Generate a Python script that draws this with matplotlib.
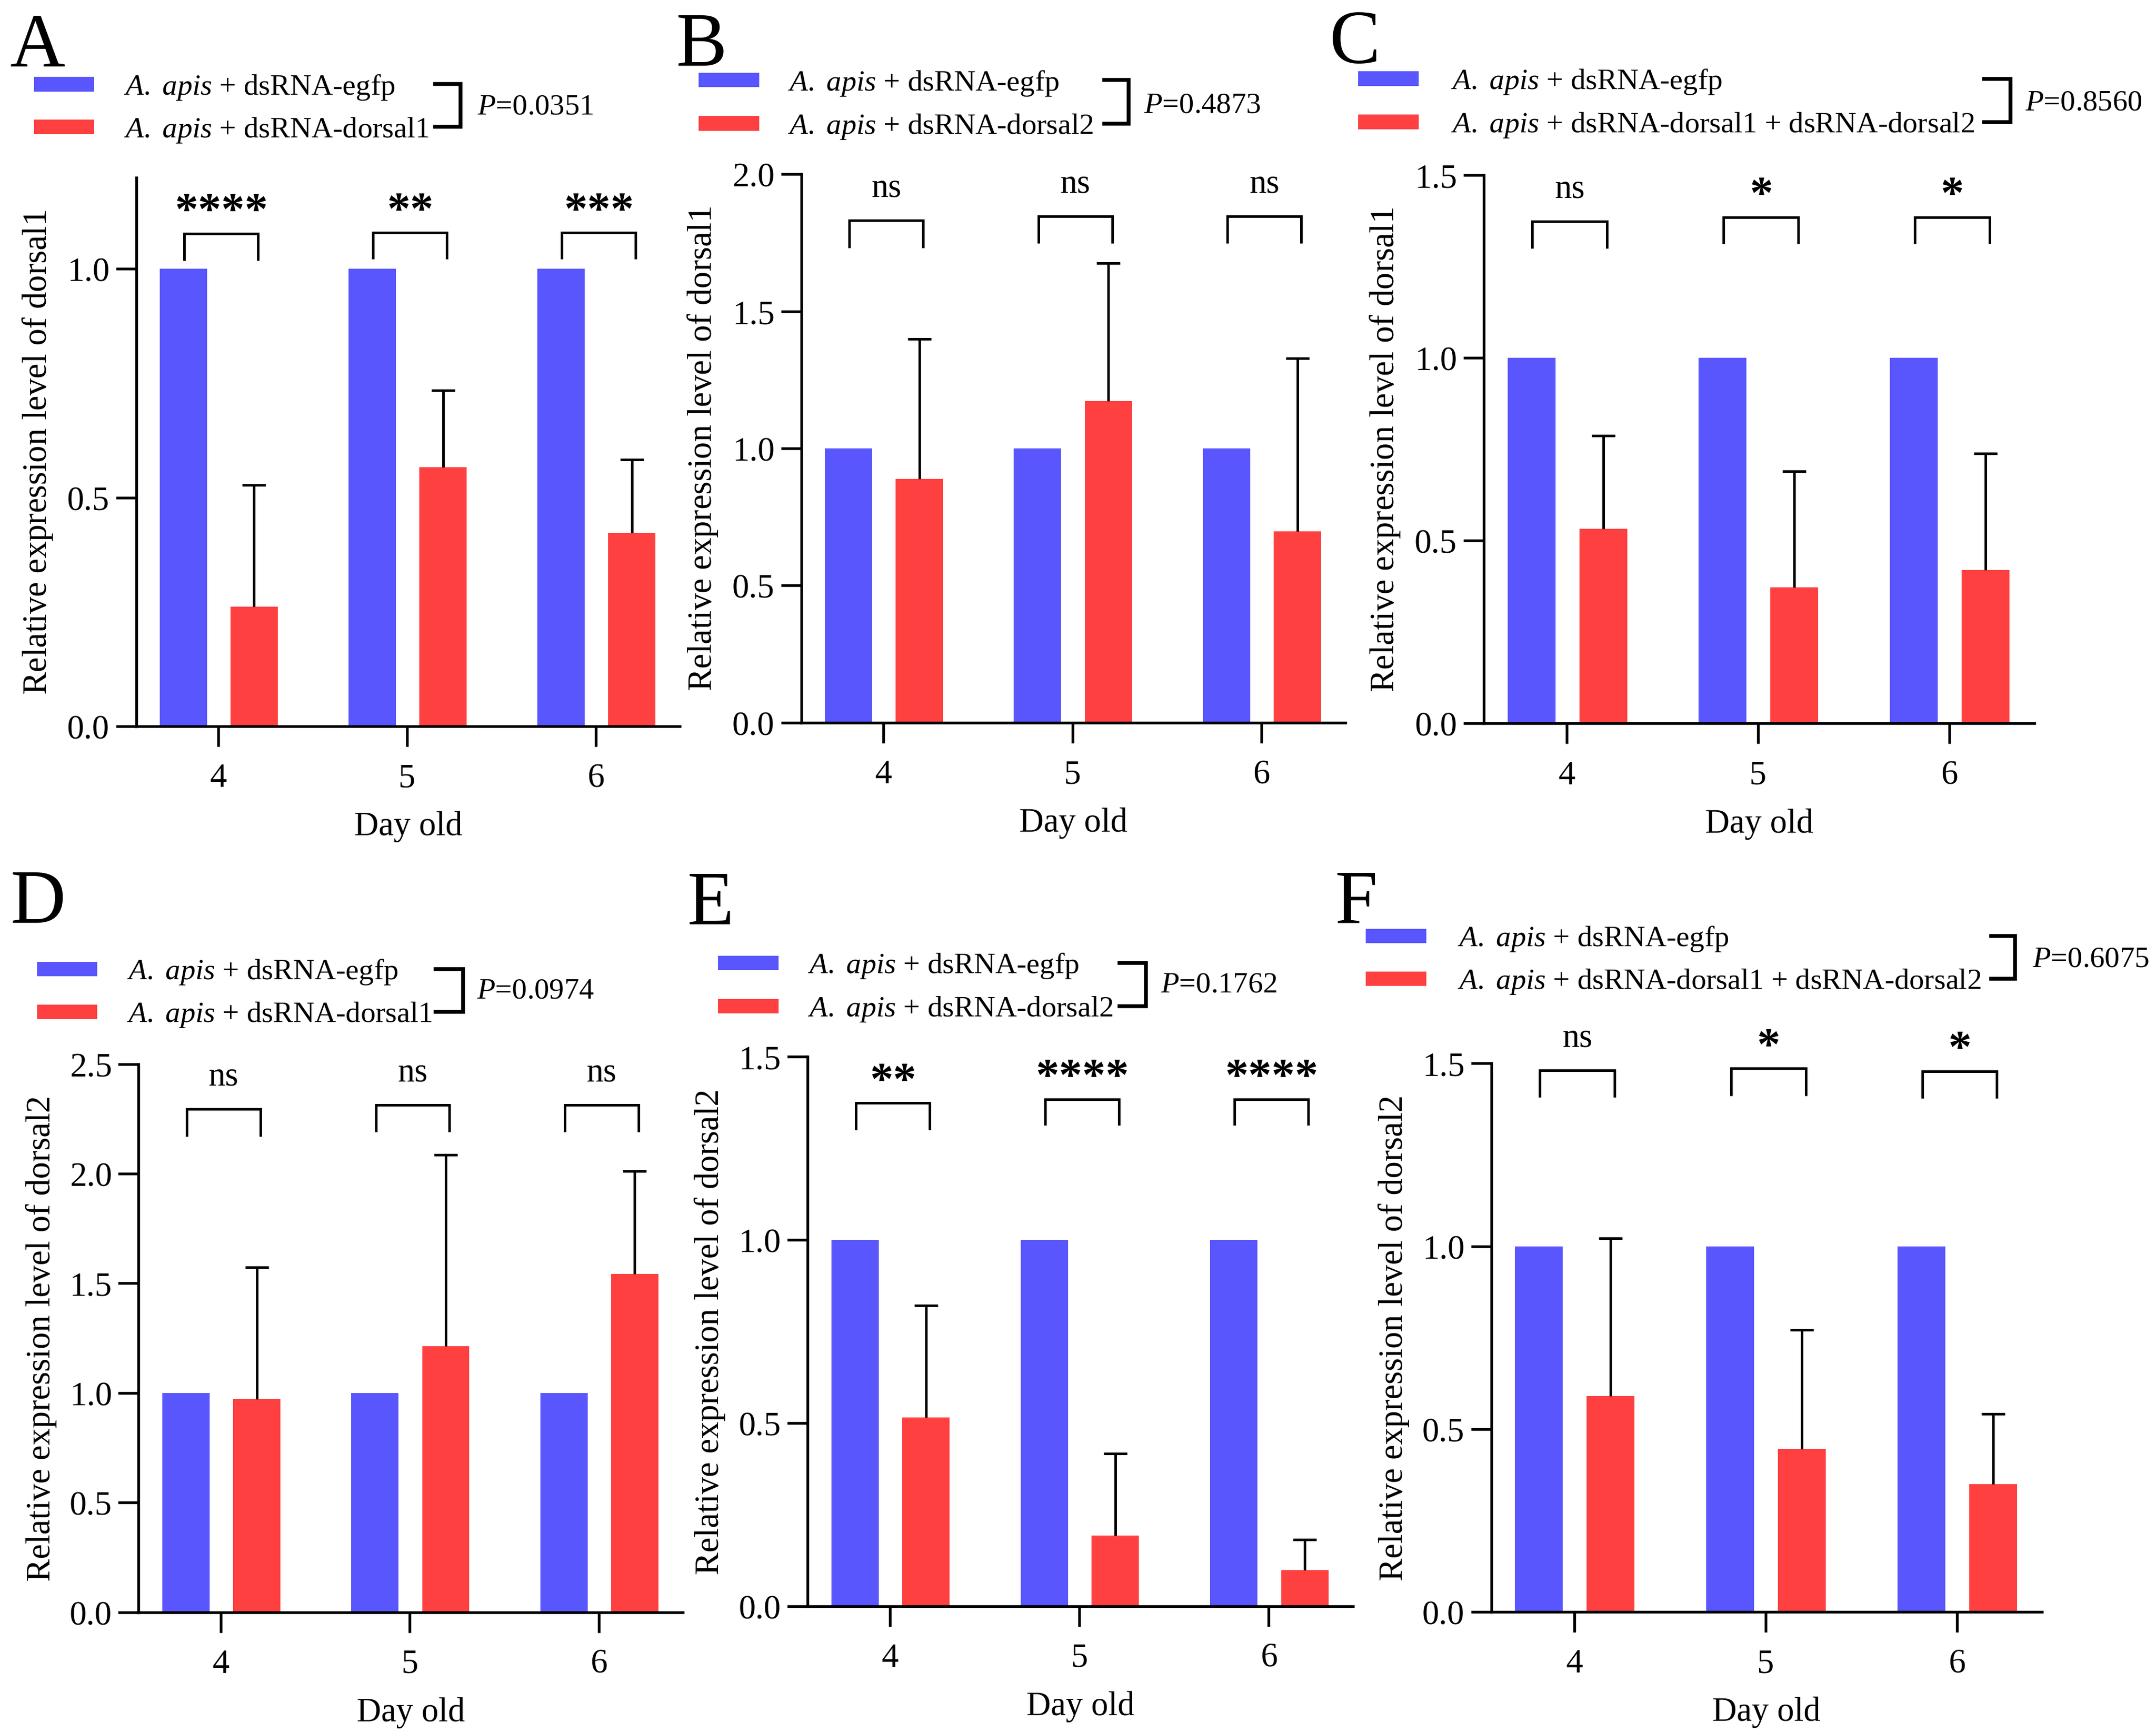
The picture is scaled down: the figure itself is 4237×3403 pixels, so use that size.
import numpy as np
import matplotlib
matplotlib.use('Agg')
import matplotlib.pyplot as plt
from matplotlib.patches import Rectangle
from matplotlib.lines import Line2D
from matplotlib.ticker import FormatStrFormatter

plt.rcParams['font.family'] = 'Liberation Serif'
plt.rcParams['mathtext.fontset'] = 'custom'
plt.rcParams['mathtext.rm'] = 'Liberation Serif'
plt.rcParams['mathtext.it'] = 'Liberation Serif:italic'
plt.rcParams['mathtext.bf'] = 'Liberation Serif:bold'

BLUE = '#5956fe'
RED = '#fe4040'

# data
days = ['4', '5', '6']
egfp = [1.0, 1.0, 1.0]

a_mean = [0.262, 0.567, 0.423]
a_sd = [0.266, 0.167, 0.160]
a_sig = ['****', '**', '***']
a_brk = [1.077, 1.079, 1.079]
a_brk_low = [1.018, 1.021, 1.021]

b_mean = [0.888, 1.172, 0.697]
b_sd = [0.511, 0.504, 0.631]
b_sig = ['ns', 'ns', 'ns']
b_brk = [1.831, 1.847, 1.847]
b_brk_low = [1.731, 1.748, 1.748]

c_mean = [0.533, 0.373, 0.420]
c_sd = [0.254, 0.317, 0.319]
c_sig = ['ns', '*', '*']
c_brk = [1.373, 1.385, 1.385]
c_brk_low = [1.300, 1.312, 1.312]

d_mean = [0.972, 1.212, 1.543]
d_sd = [0.600, 0.873, 0.468]
d_sig = ['ns', 'ns', 'ns']
d_brk = [2.294, 2.313, 2.313]
d_brk_low = [2.170, 2.190, 2.190]

e_mean = [0.515, 0.192, 0.098]
e_sd = [0.306, 0.224, 0.083]
e_sig = ['**', '****', '****']
e_brk = [1.373, 1.383, 1.383]
e_brk_low = [1.300, 1.312, 1.312]

f_mean = [0.590, 0.446, 0.350]
f_sd = [0.432, 0.325, 0.191]
f_sig = ['ns', '*', '*']
f_brk = [1.481, 1.486, 1.478]
f_brk_low = [1.407, 1.412, 1.404]

p_values = ['0.0351', '0.4873', '0.8560', '0.0974', '0.1762', '0.6075']
y_tops = [1.2, 2.0, 1.5, 2.5, 1.5, 1.5]
y_max_tick = [1.0, 2.0, 1.5, 2.5, 1.5, 1.5]

lab_egfp = r'$\mathit{A.\ apis}$ + dsRNA-egfp'
lab_d1 = r'$\mathit{A.\ apis}$ + dsRNA-dorsal1'
lab_d2 = r'$\mathit{A.\ apis}$ + dsRNA-dorsal2'
lab_d12 = r'$\mathit{A.\ apis}$ + dsRNA-dorsal1 + dsRNA-dorsal2'
ylab1 = r'Relative expression level of dorsal$\mathit{1}$'
ylab2 = 'Relative expression level of dorsal2'


# layout is measured on a 1568 x 1258 grid of the reference
def fx(px):
    return px / 1568


def fy(py):
    return 1 - py / 1258


fig = plt.figure(figsize=(4237 / 300, 3404 / 300), dpi=300)

# axes box: left, right, y of zero line, y of top
boxes = [(99, 494.5, 527.8, 129.2), (582.7, 978.6, 525.1, 126.9), (1079, 1479.6, 525.7, 127.5),
         (100.8, 496.7, 1171, 773), (587.4, 984, 1166.6, 767.6), (1084.5, 1485, 1170.8, 772.5)]
# key: patch x, row y's, text x, bracket x, arm start, P x, P y
keys = [(25.4, (61.5, 92.5), 90, 335, 316.5, 347, 76),
        (509, (58.5, 90), 573, 821, 803, 832, 75),
        (988.5, (57.5, 88.9), 1055, 1462, 1443, 1473, 73),
        (27.6, (704, 735), 92, 336.6, 316.7, 346.8, 718),
        (523, (699.5, 731), 587.4, 833.5, 814, 844, 713.5),
        (994, (680, 711), 1060, 1465.6, 1448, 1478, 695)]
letters = [('A', 7.3, 48), ('B', 491.8, 47.5), ('C', 967, 46),
           ('D', 7.7, 670), ('E', 500, 671), ('F', 970.8, 670)]

panels = [(a_mean, a_sd, a_sig, a_brk, a_brk_low, ylab1, (lab_egfp, lab_d1)),
          (b_mean, b_sd, b_sig, b_brk, b_brk_low, ylab1, (lab_egfp, lab_d2)),
          (c_mean, c_sd, c_sig, c_brk, c_brk_low, ylab1, (lab_egfp, lab_d12)),
          (d_mean, d_sd, d_sig, d_brk, d_brk_low, ylab2, (lab_egfp, lab_d1)),
          (e_mean, e_sd, e_sig, e_brk, e_brk_low, ylab2, (lab_egfp, lab_d2)),
          (f_mean, f_sd, f_sig, f_brk, f_brk_low, ylab2, (lab_egfp, lab_d12))]

x = np.arange(len(days))
w = 0.25

for i, (mean, sd, sig, brk, brk_low, ylab, labels) in enumerate(panels):
    left, right, y0, ytop = boxes[i]
    ax = fig.add_axes([fx(left), fy(y0), fx(right) - fx(left), (y0 - ytop) / 1258])

    ax.bar(x - 0.185, egfp, w, color=BLUE, zorder=2)
    ax.bar(x + 0.19, mean, w, color=RED, zorder=2)
    eb = ax.errorbar(x + 0.19, mean, yerr=[np.zeros(3), sd], fmt='none', ecolor='black',
                     elinewidth=1.2, capsize=5.6, capthick=1.2, zorder=3)
    eb[1][0].set_visible(False)  # only the upper cap

    # significance brackets
    for j in range(3):
        xl, xr = x[j] - 0.18, x[j] + 0.21
        ax.plot([xl, xl, xr, xr], [brk_low[j], brk[j], brk[j], brk_low[j]], color='black',
                lw=1.2, clip_on=False, solid_capstyle='butt', solid_joinstyle='miter')
        if sig[j] == 'ns':
            ax.annotate('ns', xy=((xl + xr) / 2, brk[j]), xytext=(0, 11.4), textcoords='offset points',
                        ha='center', va='baseline', fontsize=16, annotation_clip=False)
        else:
            ax.annotate(sig[j], xy=((xl + xr) / 2, brk[j]), xytext=(0, 4.5), textcoords='offset points',
                        ha='center', va='baseline', fontsize=22, fontweight='bold', annotation_clip=False)

    ax.set_xlim(-0.435, 2.445)
    ax.set_ylim(0, y_tops[i])
    ax.set_yticks(np.arange(0, y_max_tick[i] + 0.01, 0.5))
    ax.yaxis.set_major_formatter(FormatStrFormatter('%.1f'))
    ax.set_xticks(x)
    ax.set_xticklabels(days)
    for s in ['top', 'right']:
        ax.spines[s].set_visible(False)
    for s in ['left', 'bottom']:
        ax.spines[s].set_linewidth(1.3)
    ax.tick_params(axis='both', direction='out', length=9.6, width=1.3, labelsize=16)
    ax.tick_params(axis='y', pad=3)
    ax.tick_params(axis='x', pad=7.5)
    ax.set_xlabel('Day old', fontsize=16, labelpad=8)
    ax.set_ylabel(ylab, fontsize=16, labelpad=6)

    # key with p-value bracket
    px, rows, tx, bx, arm0, ppx, ppy = keys[i]
    for r, lab, col in zip(rows, labels, [BLUE, RED]):
        fig.patches.append(Rectangle((fx(px), fy(r + 4.5)), 42.5 / 1568, 9 / 1258,
                                     transform=fig.transFigure, color=col))
        fig.text(fx(tx), fy(r + 7.2), lab, fontsize=14, va='baseline')
    fig.add_artist(Line2D([fx(arm0), fx(bx), fx(bx), fx(arm0)],
                          [fy(rows[0]), fy(rows[0]), fy(rows[1]), fy(rows[1])],
                          color='black', lw=1.8, solid_joinstyle='miter'))
    fig.text(fx(ppx), fy(ppy + 7), r'$\mathit{P}$=' + p_values[i], fontsize=14, va='baseline')

    let, lx, ly = letters[i]
    fig.text(fx(lx), fy(ly), let, fontsize=36, va='baseline')

fig.savefig('out.png', dpi=300)
